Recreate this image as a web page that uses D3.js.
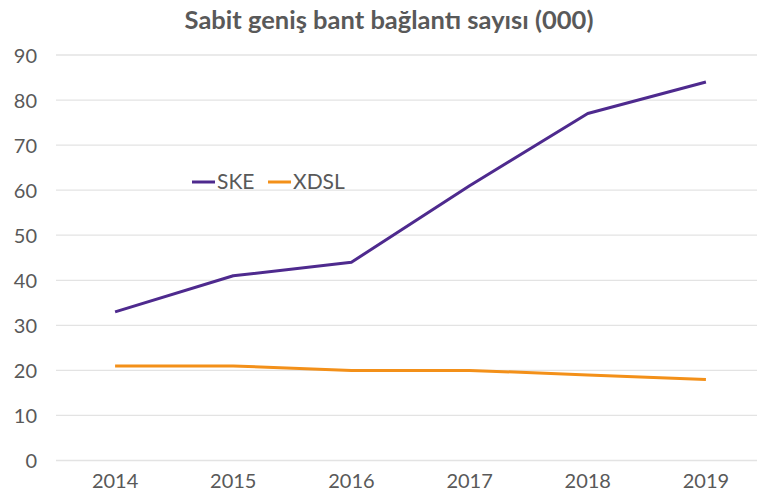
<!DOCTYPE html>
<html><head><meta charset="utf-8">
<script src="https://cdn.jsdelivr.net/npm/d3@7"></script>
<style>body{margin:0;background:#fff}svg{display:block}</style>
</head><body><svg id="c" width="757" height="504"></svg>
<script>
const years = ["2014","2015","2016","2017","2018","2019"];
const ske = [33, 41, 44, 61, 77, 84];
const xdsl = [21, 21, 20, 20, 19, 18];
const yTicks = [0,10,20,30,40,50,60,70,80,90];
const title = "Sabit geniş bant bağlantı sayısı (000)";
const seriesNames = ["SKE","XDSL"];
const colors = ["#4e2a8e","#f39019"];

const svg = d3.select("#c");
const font = "Lato, 'Open Sans', sans-serif";
const x = d3.scaleBand().domain(years).range([56, 765]);
const y = d3.scaleLinear().domain([0,90]).range([460.5, 55]);

svg.append("g").selectAll("line").data(yTicks).join("line")
  .attr("x1",56).attr("x2",765).attr("y1",d=>y(d)).attr("y2",d=>y(d))
  .attr("stroke","#e3e3e3").attr("stroke-width",1.3);

const yAxis = svg.append("g").attr("transform","translate(37,0)")
  .call(d3.axisLeft(y).tickValues(yTicks).tickSize(0).tickPadding(0));
yAxis.select(".domain").remove();
yAxis.selectAll("text").attr("font-family",font).attr("font-size",20).attr("fill","#595959").attr("dy","0.35em");

const xAxis = svg.append("g").attr("transform","translate(0,481)")
  .call(d3.axisBottom(x).tickSize(0).tickPadding(0));
xAxis.select(".domain").remove();
xAxis.selectAll("text").attr("font-family",font).attr("font-size",20).attr("fill","#595959").attr("dy","0.35em");

const line = d3.line().x((d,i)=>x(years[i])+x.bandwidth()/2).y(d=>y(d));
[ske, xdsl].forEach((s,k)=>{
  svg.append("path").datum(s).attr("d",line).attr("fill","none")
    .attr("stroke",colors[k]).attr("stroke-width",3).attr("stroke-linejoin","round");
});

const legend = svg.append("g");
const lx = [192, 268];
seriesNames.forEach((n,k)=>{
  legend.append("line").attr("x1",lx[k]).attr("x2",lx[k]+23).attr("y1",182).attr("y2",182)
    .attr("stroke",colors[k]).attr("stroke-width",3);
  legend.append("text").attr("x",lx[k]+25).attr("y",189).text(n)
    .attr("font-family",font).attr("font-size",21).attr("fill","#595959");
});

svg.append("text").attr("x",389).attr("y",29).attr("text-anchor","middle")
  .attr("font-family",font).attr("font-weight","bold").attr("font-size",25.5)
  .attr("fill","#595959").text(title);
</script></body></html>
